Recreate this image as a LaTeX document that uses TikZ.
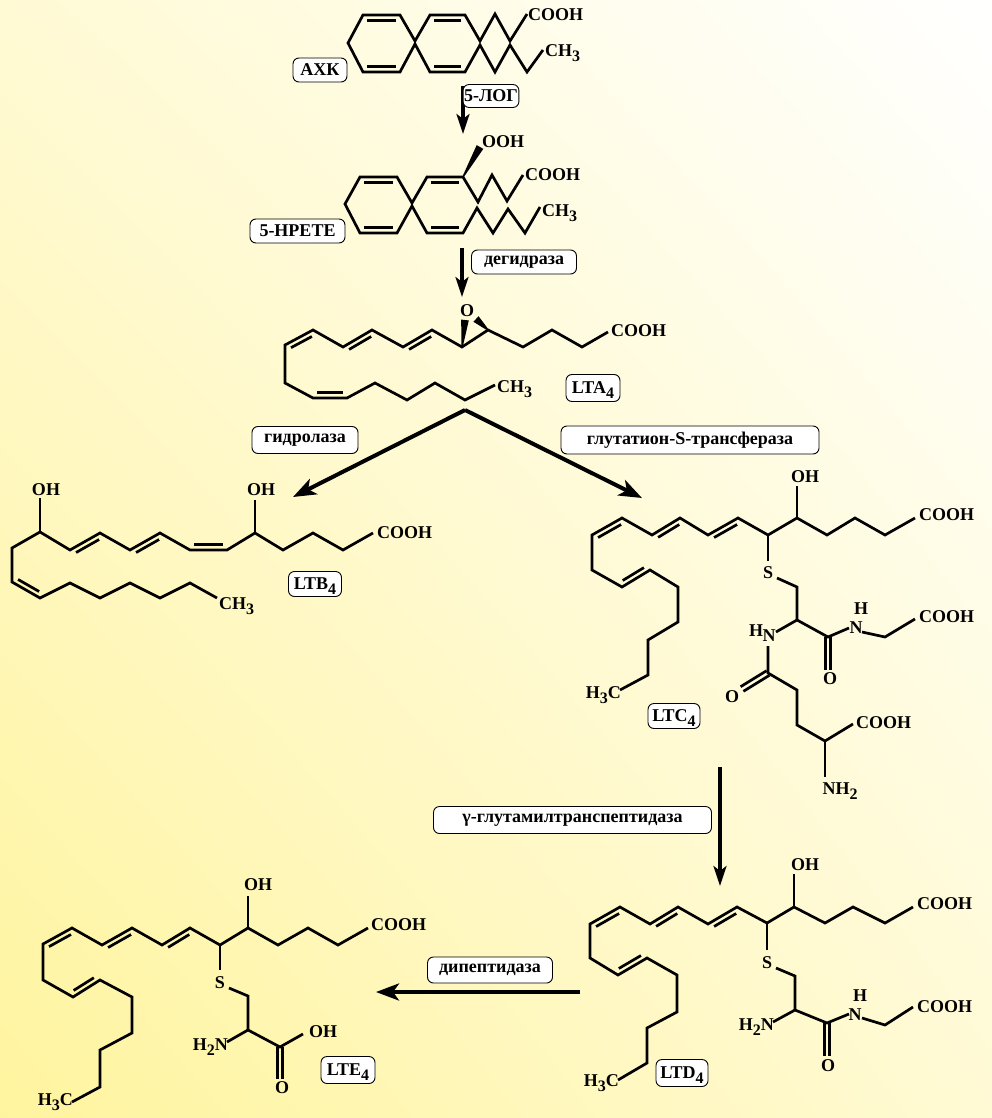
\documentclass[tikz,border=0pt]{standalone}
\usepackage{fontspec}
\setmainfont{Liberation Serif}
\usetikzlibrary{calc,arrows.meta,shadings}
\definecolor{bgY}{RGB}{255,244,158}
\definecolor{bgM}{RGB}{255,250,212}
\newcommand\sbs[1]{\raisebox{-0.28em}[0pt][0pt]{\fontsize{16}{16}\selectfont #1}}
\newcommand\dbl[2]{\draw[bond,shorten <=4pt,shorten >=4pt] ($(#1)!5.2pt!90:(#2)$) -- ($(#2)!5.2pt!-90:(#1)$);}
\newcommand\cdbl[2]{\draw[bond] ($(#1)!2.7pt!90:(#2)$) -- ($(#2)!2.7pt!-90:(#1)$); \draw[bond] ($(#1)!2.7pt!-90:(#2)$) -- ($(#2)!2.7pt!90:(#1)$);}
\newcommand\wdg[2]{\fill ($(#1)!0.7pt!90:(#2)$) -- ($(#2)!3.8pt!-90:(#1)$) -- ($(#2)!3.8pt!90:(#1)$) -- ($(#1)!0.7pt!-90:(#2)$) -- cycle;}
\tikzset{
  bond/.style={line width=2.7pt},
  atom/.style={inner sep=0pt, font=\fontsize{18}{18}\selectfont\bfseries},
  box/.style={draw, line width=0.9pt, rounded corners=6pt, fill=white, inner sep=1pt, font=\fontsize{18}{18}\selectfont\bfseries},
  arr/.style={line width=3.2pt, -{Stealth[length=20pt,width=13pt,inset=5pt]}},
  darr/.style={line width=4pt, -{Stealth[length=23pt,width=17pt,inset=6pt]}}
}
\begin{document}
\begin{tikzpicture}[x=1pt,y=-1pt]
\useasboundingbox (0,0) rectangle (992,1118);
\shade[lower left=bgY, upper right=white, upper left=bgM, lower right=bgM] (0,0) rectangle (992,1118);

% ---------- coordinates ----------
\foreach \n/\x/\y in {a1/348/43, a2/363/15, a3/400/15, a4/415/41, a5/430/15, a6/465/15, a7/480/41, a8/495/14, a9/510/41, a10/527/14,
  b2/363/72, b3/400/72, b4/415/44, b5/430/72, b6/465/72, b7/480/45, b8/495/72, b9/510/45, b10/527/72, b11/543/50,
  h1/345/204, h2/360/177, h3/397/177, h4/412/203, h5/427/177, h6/463/177, h7/478/202, h8/492/175, h9/507/201, h10/523/175, hO/480/147,
  g2/360/233, g3/397/233, g4/412/206, g5/427/233, g6/463/233, g7/477/208, g8/493/233, g9/508/209, g10/525/233, g11/540/207,
  t1/285/345, t2/313/330, t3/343/347, t4/372/330, t5/403/347, t6/432/330, t7/462/347, t8/488/330, t9/523/347, t10/552/330, t11/582/347, t12/608/332, tOa/465/320, tOb/476/319,
  u1/285/383, u2/313/398, u3/347/398, u4/375/383, u5/407/400, u6/435/383, u7/465/400, u8/495/385,
  l0/40/532, lO1/40/498, l1/70/550, l2/100/533, l3/130/550, l4/160/533, l5/190/550, l6/227/550, l7/255/533, lO2/255/500, l8/283/550, l9/313/533, l10/343/550, l11/373/533,
  m1/12/548, m2/12/582, m3/40/598, m4/70/583, m5/100/598, m6/130/583, m7/160/598, m8/190/583, m9/217/598,
  c1/915/518, c2/885/535, c3/855/518, c4/827/535, c5/797/518, cO/797/486, c6/768/535, cS1/768/561, cS2/777/578, cb/797/587, ca/797/620,
  c7/738/518, c8/708/535, c9/680/518, c10/652/535, c11/622/518, c12/592/535, c13/592/570, c14/622/587, c15/650/570, c16/678/587, c17/678/622, c18/648/640, c19/648/675, c20/620/690,
  cN1/776/632, cN1b/768/646, cg1/768/673, cgO/742/689, cg2/797/690, cg3/797/725, cg4/825/741, cg5/853/724, cgN/825/777,
  cc/828/637, ccO/828/670, cN2/849/628, cN2b/862/632, cd/885/637, ce/915/619,
  d1/913/907, d2/885/923, d3/853/907, d4/825/923, d5/794/907, dO/794/874, d6/767/923, dS1/767/950, dS2/776/968, db/795/976, da/795/1010,
  d7/737/907, d8/708/924, d9/678/907, d10/650/924, d11/620/907, d12/590/924, d13/590/958, d14/618/975, d15/647/958, d16/677/975, d17/677/1012, d18/647/1028, d19/647/1063, d20/618/1080,
  dN1/773/1022, dc/827/1023, dcO/827/1056, dN2/849/1014, dN2b/862/1018, dd/885/1025, de/913/1007,
  e1/368/928, e2/338/945, e3/308/928, e4/278/945, e5/248/928, eO/248/896, e6/220/945, eS1/220/970, eS2/229/988, eb/248/996, ea/248/1030,
  e7/190/928, e8/162/945, e9/132/928, e10/102/945, e11/72/928, e12/43/944, e13/43/980, e14/73/997, e15/100/980, e16/132/997, e17/132/1033, e18/100/1050, e19/100/1087, e20/72/1102,
  eN/227/1042, ec/280/1047, ecOH/303/1034, ecO/280/1079,
  ar1s/463/86, ar1e/463/134, ar2s/462/248, ar2e/462/297, ar3s/465/410, ar3l/293/497, ar3r/642/498,
  ar4s/720/767, ar4e/720/886, ar5s/580/992, ar5e/376/992}
  {\coordinate (\n) at (\x,\y);}

% ---------- AA ----------
\draw[bond] (a10) -- (a9) -- (a8) -- (a7) -- (a6) -- (a5) -- (a4) -- (a3) -- (a2) -- (a1) -- (b2) -- (b3) -- (b4) -- (b5) -- (b6) -- (b7) -- (b8) -- (b9) -- (b10) -- (b11);
\dbl{a3}{a2} \dbl{a6}{a5} \dbl{b2}{b3} \dbl{b5}{b6}
\node[atom,anchor=west] (aaCOOH) at (528,15) {COOH};
\node[atom,anchor=west] (aaCH) at (545,51) {CH\sbs{3}};
\node[box,minimum width=54,minimum height=24] (bAXK) at (320,70) {АХК};

\draw[arr] (ar1s) -- (ar1e);
\node[box,minimum width=41,minimum height=23] (bLOG) at (491,96) {5-ЛОГ};

% ---------- 5-HPETE ----------
\draw[bond] (h10) -- (h9) -- (h8) -- (h7) -- (h6) -- (h5) -- (h4) -- (h3) -- (h2) -- (h1) -- (g2) -- (g3) -- (g4) -- (g5) -- (g6) -- (g7) -- (g8) -- (g9) -- (g10) -- (g11);
\dbl{h3}{h2} \dbl{h6}{h5} \dbl{g2}{g3} \dbl{g5}{g6}
\wdg{h6}{hO}
\node[atom,anchor=west] (hpOOH) at (482,142) {OOH};
\node[atom,anchor=west] (hpCOOH) at (525,175) {COOH};
\node[atom,anchor=west] (hpCH) at (542,211) {CH\sbs{3}};
\node[box,minimum width=95,minimum height=24] (bHP) at (297.5,231) {5-HPETE};

\draw[arr] (ar2s) -- (ar2e);
\node[box,minimum width=105,minimum height=24] (bDEG) at (524,262) {дегидраза};

% ---------- LTA4 ----------
\draw[bond] (t12) -- (t11) -- (t10) -- (t9) -- (t8) -- (t7) -- (t6) -- (t5) -- (t4) -- (t3) -- (t2) -- (t1) -- (u1) -- (u2) -- (u3) -- (u4) -- (u5) -- (u6) -- (u7) -- (u8);
\dbl{t2}{t1} \dbl{t4}{t3} \dbl{t6}{t5} \dbl{u2}{u3}
\wdg{t7}{tOa} \wdg{t8}{tOb}
\node[atom] (taO) at (467,311) {O};
\node[atom,anchor=west] (taCOOH) at (611,331) {COOH};
\node[atom,anchor=west] (taCH) at (497,387) {CH\sbs{3}};
\node[box,minimum width=54,minimum height=27] (bLTA) at (593,388) {LTA\sbs{4}};

\node[box,minimum width=106,minimum height=27] (bHYD) at (305,440) {гидролаза};
\node[box,minimum width=258,minimum height=28] (bGST) at (690,440) {глутатион-S-трансфераза};
\draw[darr] (ar3s) -- (ar3l);
\draw[darr] (ar3s) -- (ar3r);

% ---------- LTB4 ----------
\draw[bond] (lO1) -- (l0);
\draw[bond] (m9) -- (m8) -- (m7) -- (m6) -- (m5) -- (m4) -- (m3) -- (m2) -- (m1) -- (l0) -- (l1) -- (l2) -- (l3) -- (l4) -- (l5) -- (l6) -- (l7) -- (l8) -- (l9) -- (l10) -- (l11);
\draw[bond] (l7) -- (lO2);
\dbl{l2}{l1} \dbl{l4}{l3} \dbl{l5}{l6} \dbl{m2}{m3}
\node[atom] (lbOH1) at (46,490) {OH};
\node[atom] (lbOH2) at (261,490) {OH};
\node[atom,anchor=west] (lbCOOH) at (377,533) {COOH};
\node[atom,anchor=west] (lbCH) at (219,604) {CH\sbs{3}};
\node[box,minimum width=53,minimum height=25] (bLTB) at (315,584) {LTB\sbs{4}};

% ---------- LTC4 ----------
\draw[bond] (cO) -- (c5);
\draw[bond] (c1) -- (c2) -- (c3) -- (c4) -- (c5) -- (c6) -- (c7) -- (c8) -- (c9) -- (c10) -- (c11) -- (c12) -- (c13) -- (c14) -- (c15) -- (c16) -- (c17) -- (c18) -- (c19) -- (c20);
\dbl{c7}{c8} \dbl{c9}{c10} \dbl{c11}{c12} \dbl{c14}{c15}
\draw[bond] (c6) -- (cS1);
\draw[bond] (cS2) -- (cb) -- (ca);
\draw[bond] (ca) -- (cN1);
\draw[bond] (cN1b) -- (cg1) -- (cg2) -- (cg3) -- (cg4) -- (cg5);
\draw[bond] (cg4) -- (cgN);
\cdbl{cg1}{cgO}
\draw[bond] (ca) -- (cc) -- (cN2);
\cdbl{cc}{ccO}
\draw[bond] (cN2b) -- (cd) -- (ce);
\node[atom] (lcOH) at (805,477) {OH};
\node[atom,anchor=west] (lcCOOH1) at (919,515) {COOH};
\node[atom] (lcS) at (768,573) {S};
\node[atom,anchor=east] (lcCH) at (621,693) {H\sbs{3}C};
\node[atom] (lcH1) at (756,631) {H};
\node[atom] (lcN1) at (769,636) {N};
\node[atom] (lcO1) at (732,697) {O};
\node[atom,anchor=west] (lcCOOH2) at (856,723) {COOH};
\node[atom] (lcNH) at (840,789) {NH\sbs{2}};
\node[atom] (lcO2) at (830,679) {O};
\node[atom] (lcN2) at (856,628) {N};
\node[atom] (lcH2) at (861,609) {H};
\node[atom,anchor=west] (lcCOOH3) at (919,617) {COOH};
\node[box,minimum width=52,minimum height=25] (bLTC) at (674,716) {LTC\sbs{4}};

\draw[arr] (ar4s) -- (ar4e);
\node[box,minimum width=278,minimum height=27] (bGGT) at (572.5,820) {γ-глутамилтранспептидаза};

% ---------- LTD4 ----------
\draw[bond] (dO) -- (d5);
\draw[bond] (d1) -- (d2) -- (d3) -- (d4) -- (d5) -- (d6) -- (d7) -- (d8) -- (d9) -- (d10) -- (d11) -- (d12) -- (d13) -- (d14) -- (d15) -- (d16) -- (d17) -- (d18) -- (d19) -- (d20);
\dbl{d7}{d8} \dbl{d9}{d10} \dbl{d11}{d12} \dbl{d14}{d15}
\draw[bond] (d6) -- (dS1);
\draw[bond] (dS2) -- (db) -- (da);
\draw[bond] (da) -- (dN1);
\draw[bond] (da) -- (dc) -- (dN2);
\cdbl{dc}{dcO}
\draw[bond] (dN2b) -- (dd) -- (de);
\node[atom] (ldOH) at (805,865) {OH};
\node[atom,anchor=west] (ldCOOH1) at (917,904) {COOH};
\node[atom] (ldS) at (767,963) {S};
\node[atom,anchor=east] (ldCH) at (619,1081) {H\sbs{3}C};
\node[atom,anchor=east] (ldNH) at (774,1025) {H\sbs{2}N};
\node[atom] (ldO) at (828,1066) {O};
\node[atom] (ldN) at (855,1015) {N};
\node[atom] (ldH) at (860,996) {H};
\node[atom,anchor=west] (ldCOOH2) at (917,1007) {COOH};
\node[box,minimum width=52,minimum height=27] (bLTD) at (682,1073) {LTD\sbs{4}};

\draw[darr] (ar5s) -- (ar5e);
\node[box,minimum width=125,minimum height=26] (bDIP) at (490,970) {дипептидаза};

% ---------- LTE4 ----------
\draw[bond] (eO) -- (e5);
\draw[bond] (e1) -- (e2) -- (e3) -- (e4) -- (e5) -- (e6) -- (e7) -- (e8) -- (e9) -- (e10) -- (e11) -- (e12) -- (e13) -- (e14) -- (e15) -- (e16) -- (e17) -- (e18) -- (e19) -- (e20);
\dbl{e7}{e8} \dbl{e9}{e10} \dbl{e11}{e12} \dbl{e14}{e15}
\draw[bond] (e6) -- (eS1);
\draw[bond] (eS2) -- (eb) -- (ea);
\draw[bond] (ea) -- (eN);
\draw[bond] (ea) -- (ec) -- (ecOH);
\cdbl{ec}{ecO}
\node[atom] (leOH) at (258,885) {OH};
\node[atom,anchor=west] (leCOOH) at (371,925) {COOH};
\node[atom] (leS) at (220,983) {S};
\node[atom,anchor=east] (leCH) at (73,1100) {H\sbs{3}C};
\node[atom,anchor=east] (leNH) at (228,1045) {H\sbs{2}N};
\node[atom,anchor=west] (leOH2) at (309,1032) {OH};
\node[atom] (leO) at (282,1088) {O};
\node[box,minimum width=54,minimum height=27] (bLTE) at (348,1070) {LTE\sbs{4}};
\end{tikzpicture}
\end{document}
